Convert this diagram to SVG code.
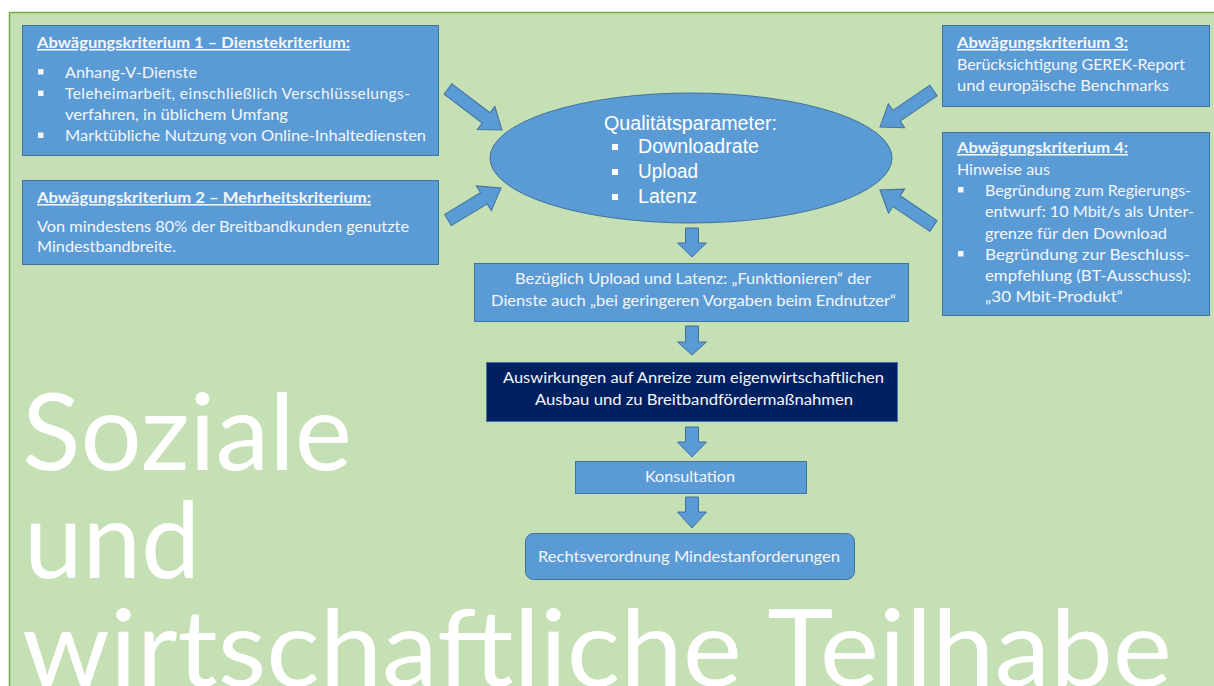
<svg xmlns="http://www.w3.org/2000/svg" width="1214" height="686" viewBox="0 0 1214 686">
<style>
.box{fill:#5b9bd5;stroke:#41719c;stroke-width:1}
.dark{fill:#002060;stroke:#41719c;stroke-width:1}
.arr{fill:#5b9bd5;stroke:#41719c;stroke-width:1}
.t{font-family:Lato,"Liberation Sans",sans-serif;font-size:15.5px;fill:#f3f6fb}
.tb{font-family:Lato,"Liberation Sans",sans-serif;font-size:15.5px;font-weight:bold;fill:#f3f6fb;text-decoration:underline}
.c{text-anchor:middle}
.e{font-family:"Liberation Sans",Arial,sans-serif;font-size:19.5px;fill:#ffffff}
.big{font-family:Lato,"Liberation Sans",sans-serif;font-size:107px;fill:#ffffff}
.bul{fill:#f3f6fb}
</style>
<rect x="0" y="0" width="1214" height="686" fill="#ffffff"/>
<rect x="9.5" y="12.5" width="1220" height="690" fill="#c5e0b4" stroke="#70ad47" stroke-width="1.5"/>

<g id="bigtext">
<text class="big" x="22" y="470" textLength="330" lengthAdjust="spacingAndGlyphs">Soziale</text>
<text class="big" x="24" y="578" textLength="176" lengthAdjust="spacingAndGlyphs">und</text>
<text class="big" x="22" y="686" textLength="1150" lengthAdjust="spacingAndGlyphs">wirtschaftliche Teilhabe</text>
</g>

<g id="connectors">
<polygon class="arr" transform="translate(448,89) rotate(37.2)" points="0,-6.5 47.8,-6.5 47.8,-14.5 67.8,0 47.8,14.5 47.8,6.5 0,6.5"/>
<polygon class="arr" transform="translate(448,220) rotate(-31.1)" points="0,-6.5 41.9,-6.5 41.9,-14.5 61.9,0 41.9,14.5 41.9,6.5 0,6.5"/>
<polygon class="arr" transform="translate(933.5,90.5) rotate(145.7)" points="0,-6.5 44.8,-6.5 44.8,-14.5 64.8,0 44.8,14.5 44.8,6.5 0,6.5"/>
<polygon class="arr" transform="translate(933.5,226) rotate(-146.1)" points="0,-6.5 44.5,-6.5 44.5,-14.5 64.5,0 44.5,14.5 44.5,6.5 0,6.5"/>
<polygon class="arr" points="685.5,228 698.5,228 698.5,243 706.5,243 692,257 677.5,243 685.5,243"/>
<polygon class="arr" points="685.5,326 698.5,326 698.5,342 706.5,342 692,355 677.5,342 685.5,342"/>
<polygon class="arr" points="685.5,427 698.5,427 698.5,442 706.5,442 692,457 677.5,442 685.5,442"/>
<polygon class="arr" points="685.5,497 698.5,497 698.5,512 706.5,512 692,528 677.5,512 685.5,512"/>
</g>

<g id="k1">
<rect class="box" x="22.5" y="25.5" width="416" height="130"/>
<text class="tb" x="37" y="48" textLength="313" lengthAdjust="spacingAndGlyphs">Abwägungskriterium 1 – Dienstekriterium:</text>
<rect class="bul" x="38" y="69" width="5.5" height="5.5"/>
<text class="t" x="65" y="78" textLength="132" lengthAdjust="spacingAndGlyphs">Anhang-V-Dienste</text>
<rect class="bul" x="38" y="90.5" width="5.5" height="5.5"/>
<text class="t" x="65" y="99" textLength="345" lengthAdjust="spacing">Teleheimarbeit,  einschließlich  Verschlüsselungs-</text>
<text class="t" x="65" y="120" textLength="223" lengthAdjust="spacingAndGlyphs">verfahren, in üblichem Umfang</text>
<rect class="bul" x="38" y="132.5" width="5.5" height="5.5"/>
<text class="t" x="65" y="141" textLength="361" lengthAdjust="spacingAndGlyphs">Marktübliche Nutzung von Online-Inhaltediensten</text>
</g>

<g id="k2">
<rect class="box" x="22.5" y="180.5" width="416" height="84"/>
<text class="tb" x="37" y="203" textLength="334" lengthAdjust="spacingAndGlyphs">Abwägungskriterium 2 – Mehrheitskriterium:</text>
<text class="t" x="37" y="232" textLength="372" lengthAdjust="spacingAndGlyphs">Von mindestens 80% der Breitbandkunden genutzte</text>
<text class="t" x="37" y="252" textLength="139" lengthAdjust="spacingAndGlyphs">Mindestbandbreite.</text>
</g>

<g id="k3">
<rect class="box" x="942.5" y="25.5" width="267" height="81"/>
<text class="tb" x="957" y="48" textLength="171" lengthAdjust="spacingAndGlyphs">Abwägungskriterium 3:</text>
<text class="t" x="957" y="70" textLength="228" lengthAdjust="spacingAndGlyphs">Berücksichtigung GEREK-Report</text>
<text class="t" x="957" y="91" textLength="212" lengthAdjust="spacingAndGlyphs">und europäische Benchmarks</text>
</g>

<g id="k4">
<rect class="box" x="942.5" y="132.5" width="267" height="183"/>
<text class="tb" x="957" y="153" textLength="171" lengthAdjust="spacingAndGlyphs">Abwägungskriterium 4:</text>
<text class="t" x="957" y="174.5" textLength="93" lengthAdjust="spacingAndGlyphs">Hinweise aus</text>
<rect class="bul" x="958" y="187" width="5.5" height="5.5"/>
<text class="t" x="985" y="196" textLength="206" lengthAdjust="spacingAndGlyphs">Begründung zum Regierungs-</text>
<text class="t" x="985" y="217" textLength="209" lengthAdjust="spacingAndGlyphs">entwurf: 10 Mbit/s als Unter-</text>
<text class="t" x="985" y="238.5" textLength="182" lengthAdjust="spacingAndGlyphs">grenze für den Download</text>
<rect class="bul" x="958" y="251" width="5.5" height="5.5"/>
<text class="t" x="985" y="260" textLength="205" lengthAdjust="spacingAndGlyphs">Begründung zur Beschluss-</text>
<text class="t" x="985" y="281" textLength="206" lengthAdjust="spacingAndGlyphs">empfehlung (BT-Ausschuss):</text>
<text class="t" x="985" y="302" textLength="138" lengthAdjust="spacingAndGlyphs">„30 Mbit-Produkt“</text>
</g>

<g id="qp">
<ellipse class="box" cx="691" cy="158" rx="201" ry="65"/>
<text class="e" x="604" y="130" textLength="173" lengthAdjust="spacingAndGlyphs">Qualitätsparameter:</text>
<rect x="612" y="144" width="6" height="6" fill="#ffffff"/>
<text class="e" x="638" y="153" textLength="121" lengthAdjust="spacingAndGlyphs">Downloadrate</text>
<rect x="612" y="169" width="6" height="6" fill="#ffffff"/>
<text class="e" x="638" y="178" textLength="60" lengthAdjust="spacingAndGlyphs">Upload</text>
<rect x="612" y="194" width="6" height="6" fill="#ffffff"/>
<text class="e" x="638" y="203" textLength="59" lengthAdjust="spacingAndGlyphs">Latenz</text>
</g>

<g id="bezueglich">
<rect class="box" x="474.5" y="263.5" width="434" height="58"/>
<text class="t c" x="693" y="284" textLength="356" lengthAdjust="spacingAndGlyphs">Bezüglich Upload und Latenz: „Funktionieren“ der</text>
<text class="t c" x="693.5" y="306" textLength="405" lengthAdjust="spacingAndGlyphs">Dienste auch „bei geringeren Vorgaben beim Endnutzer“</text>
</g>

<g id="auswirkungen">
<rect class="dark" x="486.5" y="362.5" width="411" height="59"/>
<text class="t c" x="693.5" y="383" textLength="381" lengthAdjust="spacingAndGlyphs">Auswirkungen auf Anreize zum eigenwirtschaftlichen</text>
<text class="t c" x="694" y="405" textLength="318" lengthAdjust="spacingAndGlyphs">Ausbau und zu Breitbandfördermaßnahmen</text>
</g>

<g id="konsultation">
<rect class="box" x="575.5" y="461.5" width="231" height="32"/>
<text class="t c" x="690" y="482" textLength="90" lengthAdjust="spacingAndGlyphs">Konsultation</text>
</g>

<g id="rechtsverordnung">
<rect class="box" x="525.5" y="533.5" width="329" height="46" rx="8" ry="8"/>
<text class="t c" x="689" y="562" textLength="302" lengthAdjust="spacingAndGlyphs">Rechtsverordnung Mindestanforderungen</text>
</g>
</svg>
